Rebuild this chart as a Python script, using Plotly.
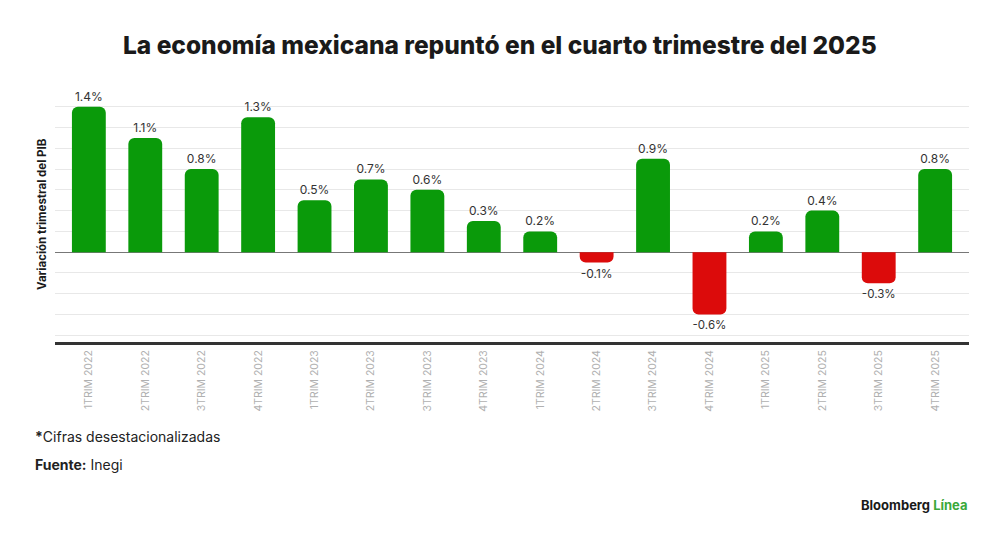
import plotly.graph_objects as go

categories = ["1TRIM 2022", "2TRIM 2022", "3TRIM 2022", "4TRIM 2022",
              "1TRIM 2023", "2TRIM 2023", "3TRIM 2023", "4TRIM 2023",
              "1TRIM 2024", "2TRIM 2024", "3TRIM 2024", "4TRIM 2024",
              "1TRIM 2025", "2TRIM 2025", "3TRIM 2025", "4TRIM 2025"]
values = [1.4, 1.1, 0.8, 1.3, 0.5, 0.7, 0.6, 0.3, 0.2, -0.1, 0.9, -0.6, 0.2, 0.4, -0.3, 0.8]

GREEN = "#0a9a0a"
RED = "#dc0b0b"
colors = [GREEN if v >= 0 else RED for v in values]

OFF = 8  # page offset of the figure in the browser
W, H = 992, 529
# plot area in screen pixels: x 55..969, y 86..342
L = 55 - OFF
T = 86 - OFF
R = (W + OFF) - 969
B = (H + OFF) - 342

fig = go.Figure()
fig.add_trace(go.Bar(
    x=list(range(len(categories))), y=values,
    marker=dict(color=colors, line=dict(width=0)),
    width=0.6,
    text=[f"{v:.1f}%" for v in values],
    textposition="outside",
    textfont=dict(family="Inter, Roboto, sans-serif", size=12, color="#333333"),
    cliponaxis=False,
    hoverinfo="skip",
))

fig.update_layout(
    width=W, height=H,
    margin=dict(l=L, r=R, t=T, b=B),
    paper_bgcolor="white", plot_bgcolor="white",
    barcornerradius=6,
    showlegend=False,
    font=dict(family="Inter, Roboto, sans-serif"),
    xaxis=dict(
        range=[-0.6, 15.6],
        tickmode="array",
        tickvals=list(range(len(categories))),
        ticktext=categories,
        tickangle=-90,
        tickfont=dict(family="Inter, Roboto, sans-serif", size=10.5, color="#b0b0b0"),
        showgrid=False,
        showline=True, linecolor="#333333", linewidth=3,
        ticks="", ticklabelstandoff=1,
        zeroline=False,
        fixedrange=True,
    ),
    yaxis=dict(
        range=[-0.865, 1.6],
        dtick=0.2, tick0=0,
        showticklabels=False,
        showgrid=True, gridcolor="#e8e8e8", gridwidth=1,
        zeroline=True, zerolinecolor="#777777", zerolinewidth=1,
        showline=False, ticks="",
        fixedrange=True,
    ),
)

pw = W - L - R
ph = H - T - B

def px_x(x):
    return (x - OFF - L) / pw

def px_y(y):
    return (H - B - (y - OFF)) / ph

annotations = [
    dict(text="La economía mexicana repuntó en el cuarto trimestre del 2025",
         x=px_x(500), y=px_y(45), xref="paper", yref="paper", xanchor="center", yanchor="middle",
         font=dict(family="Inter, Roboto, sans-serif", size=24.5, color="#1a1a1a", weight=800),
         showarrow=False),
    dict(text="<b>Variación trimestral del PIB</b>",
         x=px_x(42), y=px_y(214), xref="paper", yref="paper", xanchor="center", yanchor="middle",
         textangle=-90,
         font=dict(family="Inter, Roboto, sans-serif", size=11.5, color="#1a1a1a"), showarrow=False),
    dict(text="<b>*</b>Cifras desestacionalizadas",
         x=px_x(33), y=px_y(436), xref="paper", yref="paper", xanchor="left", yanchor="middle",
         font=dict(family="Inter, Roboto, sans-serif", size=14, color="#222222"), showarrow=False),
    dict(text="<b>Fuente:</b> Inegi",
         x=px_x(33), y=px_y(464), xref="paper", yref="paper", xanchor="left", yanchor="middle",
         font=dict(family="Inter, Roboto, sans-serif", size=14, color="#222222"), showarrow=False),
    dict(text="<b>Bloomberg <span style='color:#3aa83a'>Línea</span></b>",
         x=px_x(970), y=px_y(505), xref="paper", yref="paper", xanchor="right", yanchor="middle",
         font=dict(family="Inter, Roboto, sans-serif", size=13, color="#1a1a1a"), showarrow=False),
]
fig.update_layout(annotations=annotations)

fig.write_html("out.html")
